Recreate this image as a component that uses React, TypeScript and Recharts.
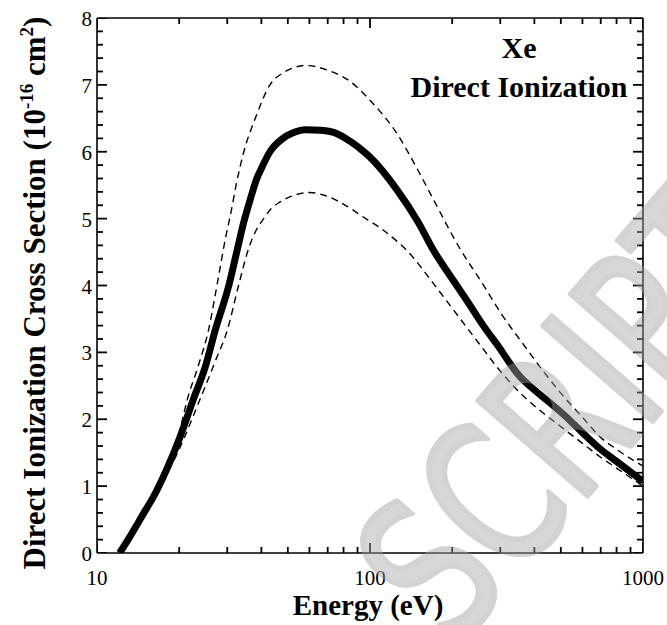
import React from 'react';
import { ComposedChart, Line, Scatter, XAxis, YAxis } from 'recharts';

// Energy (eV) and cross section (1e-16 cm^2)
const solidE = [12.1, 13, 14, 15, 16, 18, 20, 22.5, 25, 27.1, 30.4, 32.7, 34.5, 36.5, 38.5, 40, 43, 48, 52, 58, 66, 75.7, 85, 95, 100, 125.6, 150, 170.6, 200, 226, 260, 300, 320, 344, 370, 400, 525, 600, 695, 800, 1000];
const solidV = [0, 0.2, 0.42, 0.63, 0.82, 1.25, 1.7, 2.29, 2.8, 3.33, 4.0, 4.55, 4.95, 5.3, 5.6, 5.75, 6.0, 6.2, 6.28, 6.33, 6.32, 6.27, 6.15, 6.0, 5.92, 5.43, 4.95, 4.53, 4.1, 3.78, 3.4, 3.05, 2.88, 2.7, 2.56, 2.44, 2.03, 1.8, 1.56, 1.37, 1.07];

const upperE = [12.1, 14, 16, 17, 18.5, 20, 21.4, 23.5, 25.6, 27.5, 29.7, 30.8, 32.5, 34.5, 38, 43, 48, 52, 58, 70, 84.7, 100, 125.6, 150, 170, 213.6, 260, 300, 360, 420, 500, 600, 695, 800, 1000];
const upperV = [0, 0.44, 0.84, 1.05, 1.4, 1.8, 2.29, 2.8, 3.33, 4.0, 4.75, 5.05, 5.55, 6.0, 6.5, 7.0, 7.18, 7.25, 7.29, 7.22, 7.05, 6.77, 6.27, 5.72, 5.3, 4.55, 4.01, 3.6, 3.15, 2.78, 2.39, 2.03, 1.74, 1.55, 1.3];

const lowerE = [12.1, 14, 16, 17, 20, 23.8, 27, 30, 33, 35.9, 38, 40.8, 43.5, 46.9, 52, 60, 68, 75.7, 85, 94.8, 110, 125.6, 136, 170, 200, 250, 300, 344, 380, 420, 500, 600, 695, 800, 1000];
const lowerV = [0, 0.4, 0.78, 0.98, 1.55, 2.29, 2.85, 3.33, 4.0, 4.55, 4.8, 5.0, 5.15, 5.25, 5.34, 5.39, 5.35, 5.27, 5.15, 5.02, 4.85, 4.66, 4.53, 4.04, 3.66, 3.14, 2.72, 2.45, 2.28, 2.13, 1.89, 1.64, 1.44, 1.27, 1.0];

const xTicks = [10, 20, 30, 40, 50, 60, 70, 80, 90, 100, 200, 300, 400, 500, 600, 700, 800, 900, 1000];
const xLabels = [10, 100, 1000];
const yTicks = [0, 0.2, 0.4, 0.6, 0.8, 1, 1.2, 1.4, 1.6, 1.8, 2, 2.2, 2.4, 2.6, 2.8, 3, 3.2, 3.4, 3.6, 3.8, 4, 4.2, 4.4, 4.6, 4.8, 5, 5.2, 5.4, 5.6, 5.8, 6, 6.2, 6.4, 6.6, 6.8, 7, 7.2, 7.4, 7.6, 7.8, 8];
const yLabels = [0, 1, 2, 3, 4, 5, 6, 7, 8];

const solidData = solidE.map((e, i) => ({ e, v: solidV[i] }));
const upperData = upperE.map((e, i) => ({ e, v: upperV[i] }));
const lowerData = lowerE.map((e, i) => ({ e, v: lowerV[i] }));

const FONT = '"Liberation Serif", "Times New Roman", serif';
const X_MIN = 10, X_MAX = 1000, Y_MIN = 0, Y_MAX = 8;
const MAJ = 10, MIN = 6;

const isXMajor = (v: number) => xLabels.includes(v);
const isYMajor = (v: number) => yLabels.some((l) => Math.abs(l - v) < 1e-6);

// tick anchor points on the four frame sides; side tells which way the tick points inward
const tickPoints = [
  ...xTicks.map((t) => ({ e: t, v: Y_MIN, side: 'b', len: isXMajor(t) ? MAJ : MIN })),
  ...xTicks.map((t) => ({ e: t, v: Y_MAX, side: 't', len: isXMajor(t) ? MAJ : MIN })),
  ...yTicks.map((t) => ({ e: X_MIN, v: t, side: 'l', len: isYMajor(t) ? MAJ : MIN })),
  ...yTicks.map((t) => ({ e: X_MAX, v: t, side: 'r', len: isYMajor(t) ? MAJ : MIN })),
];

const TickMark = (p: any) => {
  const cx = Number(p.cx), cy = Number(p.cy);
  const d = p.payload || {};
  const len = d.len || MIN;
  let x2 = cx, y2 = cy;
  if (d.side === 'b') y2 = cy - len;
  else if (d.side === 't') y2 = cy + len;
  else if (d.side === 'l') x2 = cx + len;
  else x2 = cx - len;
  return <line x1={cx} y1={cy} x2={x2} y2={y2} stroke="#000" strokeWidth={1.8} />;
};

const BottomTick = (p: any) => {
  const v = p.payload.value;
  if (!isXMajor(v)) return <g />;
  return (
    <text x={Number(p.x)} y={Number(p.y) + 32} textAnchor="middle" fontFamily={FONT} fontSize={21} fill="#000">{v}</text>
  );
};
const LeftTick = (p: any) => {
  const v = p.payload.value;
  if (!isYMajor(v)) return <g />;
  return (
    <text x={Number(p.x) - 5} y={Number(p.y) + 8} textAnchor="end" fontFamily={FONT} fontSize={21} fill="#000">{Math.round(v)}</text>
  );
};

const axisLine = { stroke: '#000', strokeWidth: 1.6 };

export default function App() {
  return (
    <div style={{ position: 'absolute', left: 0, top: 0, width: 667, height: 625, background: '#fff' }}>
      <ComposedChart width={667} height={625} margin={{ top: 17, right: 20, bottom: 0, left: 0 }}>
        <XAxis xAxisId="b" dataKey="e" type="number" scale="log" domain={[X_MIN, X_MAX]} ticks={xTicks} interval={0}
          height={72} tickSize={0} tickMargin={0} tick={(p: any) => <BottomTick {...p} />} axisLine={axisLine} allowDataOverflow />
        <XAxis xAxisId="t" orientation="top" dataKey="e" type="number" scale="log" domain={[X_MIN, X_MAX]} ticks={xTicks}
          height={1} tickSize={0} tick={false} axisLine={axisLine} allowDataOverflow />
        <YAxis yAxisId="l" type="number" domain={[Y_MIN, Y_MAX]} ticks={yTicks} interval={0} width={97}
          tickSize={0} tickMargin={0} tick={(p: any) => <LeftTick {...p} />} axisLine={axisLine} allowDataOverflow />
        <YAxis yAxisId="r" orientation="right" type="number" domain={[Y_MIN, Y_MAX]} ticks={yTicks} width={4}
          tickSize={0} tick={false} axisLine={axisLine} allowDataOverflow />
        <Scatter xAxisId="b" yAxisId="l" data={tickPoints} dataKey="v" shape={(p: any) => <TickMark {...p} />}
          isAnimationActive={false} />
        <Line xAxisId="b" yAxisId="l" data={upperData} dataKey="v" type="monotone" stroke="#000" strokeWidth={1.4}
          strokeDasharray="7 5" dot={false} isAnimationActive={false} />
        <Line xAxisId="b" yAxisId="l" data={lowerData} dataKey="v" type="monotone" stroke="#000" strokeWidth={1.4}
          strokeDasharray="7 5" dot={false} isAnimationActive={false} />
        <Line xAxisId="b" yAxisId="l" data={solidData} dataKey="v" type="monotone" stroke="#000" strokeWidth={7}
          dot={false} isAnimationActive={false} />
      </ComposedChart>
      <svg width={667} height={625} style={{ position: 'absolute', left: 0, top: 0, pointerEvents: 'none' }}>
        <text transform="translate(45,293) rotate(-90)" textAnchor="middle" fontFamily={FONT} fontWeight="bold" fontSize={31} fill="#000">
          Direct Ionization Cross Section (10<tspan dy={-12} fontSize={19}>-16</tspan><tspan dy={12}> cm</tspan><tspan dy={-12} fontSize={19}>2</tspan><tspan dy={12}>)</tspan>
        </text>
        <text x={368} y={615} textAnchor="middle" fontFamily={FONT} fontWeight="bold" fontSize={29} fill="#000">Energy (eV)</text>
        <text x={519} y={58} textAnchor="middle" fontFamily={FONT} fontWeight="bold" fontSize={30} fill="#000">Xe</text>
        <text x={519} y={97} textAnchor="middle" fontFamily={FONT} fontWeight="bold" fontSize={30} fill="#000">Direct Ionization</text>
        <text transform="translate(453,650) rotate(-49) scale(0.72,1)" fontFamily='"DejaVu Sans", sans-serif' fontSize={198}
          fill="#a8a8a8" stroke="#a0a0a0" strokeWidth={6} strokeLinejoin="round" opacity={0.45}>SCRIPT</text>
      </svg>
    </div>
  );
}
